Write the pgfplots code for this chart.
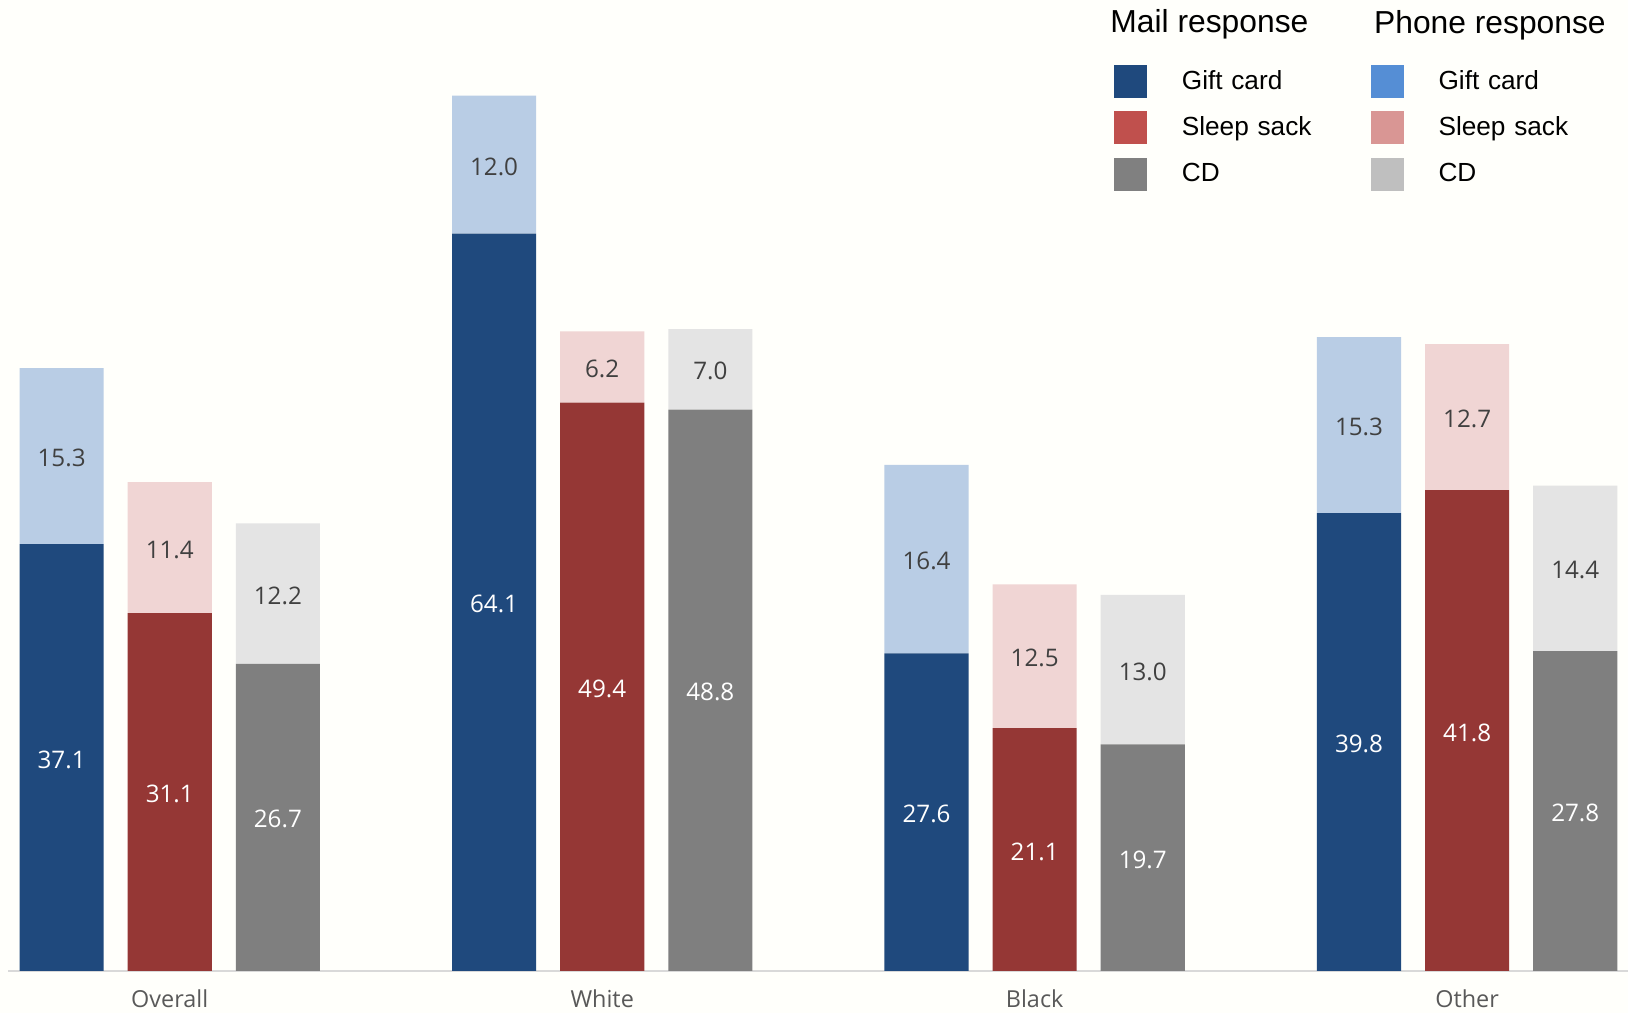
\documentclass[border=0pt]{standalone}
\usepackage{pgfplots}
\usepackage{pgfplotstable}
\pgfplotsset{compat=1.18}
\usepackage{fontspec}
\setmainfont{Open Sans}
\newfontfamily\legendfont{Liberation Sans}

% bar colours
\definecolor{mailgift}{HTML}{1F497D}
\definecolor{mailsleep}{HTML}{953735}
\definecolor{mailcd}{HTML}{7F7F7F}
\definecolor{phonegift}{HTML}{B9CDE5}
\definecolor{phonesleep}{HTML}{F0D5D4}
\definecolor{phonecd}{HTML}{E4E4E4}
% legend swatch colours
\definecolor{mailsleepleg}{HTML}{C0504D}
\definecolor{mailcdleg}{HTML}{808080}
\definecolor{phonegiftleg}{HTML}{558ED5}
\definecolor{phonesleepleg}{HTML}{D99694}
\definecolor{phonecdleg}{HTML}{BFBFBF}
\definecolor{darklabel}{HTML}{404040}
\definecolor{ticktext}{HTML}{595959}
\definecolor{baseline}{HTML}{D9D9D9}
\definecolor{bg}{HTML}{FFFFFB}

% x: 0 = Overall, 1 = White, 2 = Black, 3 = Other
\pgfplotstableread{
x mail phone
0 37.1 15.3
1 64.1 12.0
2 27.6 16.4
3 39.8 15.3
}\giftdata
\pgfplotstableread{
x mail phone
0 31.1 11.4
1 49.4 6.2
2 21.1 12.5
3 41.8 12.7
}\sleepdata
\pgfplotstableread{
x mail phone
0 26.7 12.2
1 48.8 7.0
2 19.7 13.0
3 27.8 14.4
}\cddata

\pgfplotsset{
  base/.style={
    scale only axis, width=809.85pt, height=485.4pt,
    at={(0pt,0pt)}, anchor=south west,
    xmin=-0.3733, xmax=3.372, ymin=0, ymax=84.42,
  },
  bars/.style={base, ybar stacked, bar width=0.1945},
  seg/.style={draw=none, fill=#1},
  % value labels, centred in each segment
  lbl/.style={draw=none, mark=none, nodes near coords, point meta=explicit,
    nodes near coords={\pgfmathprintnumber[fixed,fixed zerofill,precision=1]{\pgfplotspointmeta}},
    every node near coord/.append style={anchor=center, inner sep=0pt, text=#1,
      yshift=-1pt, font=\fontsize{12.1}{14}\selectfont}},
  swatch/.style={legend image code/.code={\fill[#1] (0pt,-8pt) rectangle (16pt,8pt);}},
}

\begin{document}
\begin{tikzpicture}
\fill[bg] (-4.15pt,-21.1pt) rectangle (809.85pt,485.4pt);

% gift card bars, with the category axis
\begin{axis}[bars, name=ax, bar shift=-0.25,
    axis x line=bottom, axis y line=none,
    x axis line style={-, draw=baseline, line width=1pt},
    xtick={0,1,2,3}, xticklabels={Overall,White,Black,Other},
    ytick=\empty, major tick length=0pt,
    xticklabel style={text=ticktext, font=\fontsize{11.7}{14}\selectfont,
      anchor=base, inner sep=0pt, yshift=-18.3pt}]
\addplot[seg=mailgift] table[x=x,y=mail]{\giftdata};
\addplot[seg=phonegift] table[x=x,y=phone]{\giftdata};
\end{axis}

% sleep sack bars
\begin{axis}[bars, hide axis, bar shift=0]
\addplot[seg=mailsleep] table[x=x,y=mail]{\sleepdata};
\addplot[seg=phonesleep] table[x=x,y=phone]{\sleepdata};
\end{axis}

% CD bars and the legend
\begin{axis}[bars, hide axis, bar shift=0.25,
    legend columns=2,
    legend style={draw=none, fill=none, at={(0.6827,0.9337)}, anchor=north west,
      inner sep=0pt, font=\legendfont\fontsize{13.1}{15}\selectfont,
      nodes={inner sep=0pt, text width=77pt, align=left},
      /tikz/every odd column/.append style={column sep=17.3pt},
      /tikz/every even column/.append style={column sep=17.65pt},
      row sep=6.85pt},
    legend cell align=left]
\addplot[seg=mailcd, forget plot] table[x=x,y=mail]{\cddata};
\addplot[seg=phonecd, forget plot] table[x=x,y=phone]{\cddata};
\addlegendimage{swatch=mailgift}\addlegendentry{Gift card}
\addlegendimage{swatch=phonegiftleg}\addlegendentry{Gift card}
\addlegendimage{swatch=mailsleepleg}\addlegendentry{Sleep sack}
\addlegendimage{swatch=phonesleepleg}\addlegendentry{Sleep sack}
\addlegendimage{swatch=mailcdleg}\addlegendentry{CD}
\addlegendimage{swatch=phonecdleg}\addlegendentry{CD}
\node[anchor=base west, inner sep=0pt, font=\legendfont\fontsize{15.9}{18}\selectfont]
  at (rel axis cs:0.6802,0.966) {Mail response};
\node[anchor=base west, inner sep=0pt, font=\legendfont\fontsize{15.9}{18}\selectfont]
  at (rel axis cs:0.843,0.965) {Phone response};
\end{axis}

% value labels at the middle of each segment
\begin{axis}[base, hide axis, /pgf/number format/assume math mode=true]
\addplot[lbl=white] table[x expr=\thisrow{x}-0.25, y expr=\thisrow{mail}/2, meta=mail]{\giftdata};
\addplot[lbl=darklabel] table[x expr=\thisrow{x}-0.25, y expr=\thisrow{mail}+\thisrow{phone}/2, meta=phone]{\giftdata};
\addplot[lbl=white] table[x=x, y expr=\thisrow{mail}/2, meta=mail]{\sleepdata};
\addplot[lbl=darklabel] table[x=x, y expr=\thisrow{mail}+\thisrow{phone}/2, meta=phone]{\sleepdata};
\addplot[lbl=white] table[x expr=\thisrow{x}+0.25, y expr=\thisrow{mail}/2, meta=mail]{\cddata};
\addplot[lbl=darklabel] table[x expr=\thisrow{x}+0.25, y expr=\thisrow{mail}+\thisrow{phone}/2, meta=phone]{\cddata};
\end{axis}

\pgfresetboundingbox
\path[use as bounding box] (-4.15pt,-21.1pt) rectangle (809.85pt,485.4pt);
\end{tikzpicture}
\end{document}
